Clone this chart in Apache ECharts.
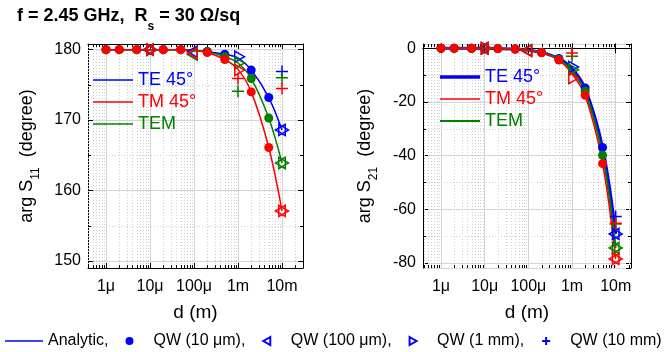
<!DOCTYPE html>
<html>
<head>
<meta charset="utf-8">
<script src="https://cdn.jsdelivr.net/npm/echarts@6/dist/echarts.min.js"></script>
<style>
  html, body { margin: 0; padding: 0; background: #fff; }
  #chart { width: 665px; height: 352px; }
</style>
</head>
<body>
<div id="chart"></div>
<script>
const FONT = "'Liberation Sans', Arial, sans-serif";

// thickness d (m), 1-2-5 steps
const dValues = [1e-6, 2e-6, 5e-6, 1e-5, 2e-5, 5e-5, 1e-4, 2e-4, 5e-4, 1e-3, 2e-3, 5e-3, 1e-2];
const xTickLabels = ['1μ', '10μ', '100μ', '1m', '10m'];
const s11MinorTicks = [155, 165, 175];
const s21MinorTicks = [-70, -50, -30, -10];

// arg S11 (degree), analytic curves
const s11TE  = [180, 180, 180, 180, 180, 180, 179.9, 179.75, 179.35, 178.8, 177.1, 173.2, 168.6];
const s11TM  = [180, 180, 180, 180, 180, 180, 179.85, 179.6, 178.6, 177.2, 174.0, 166.1, 157.1];
const s11TEM = [180, 180, 180, 180, 180, 180, 179.9, 179.7, 179.0, 178.1, 175.9, 170.3, 163.9];

// arg S21 (degree), analytic curves
const s21TE  = [0, 0, 0, 0, -0.1, -0.3, -0.7, -1.5, -3.8, -7.5, -15.0, -37.0, -69.2];
const s21TM  = [0, 0, 0, 0, -0.1, -0.3, -0.8, -1.7, -4.4, -9.5, -17.6, -43.0, -78.5];
const s21TEM = [0, 0, 0, 0, -0.1, -0.3, -0.8, -1.6, -4.1, -8.5, -16.2, -39.9, -74.4];

// QW (10 um) points
const qw10umD = [1e-6, 2e-6, 5e-6, 2e-5, 5e-5, 2e-4, 5e-4, 2e-3, 5e-3];
const s11Qw10umTE  = [180, 180, 180, 180, 180, 179.75, 179.35, 177.1, 173.2];
const s11Qw10umTM  = [180, 180, 180, 180, 180, 179.6, 178.6, 174.0, 166.1];
const s11Qw10umTEM = [180, 180, 180, 180, 180, 179.7, 179.0, 175.9, 170.3];
const s21Qw10umTE  = [0, 0, 0, -0.1, -0.3, -1.5, -3.8, -14.8, -37.0];
const s21Qw10umTM  = [0, 0, 0, -0.1, -0.3, -1.7, -4.4, -17.5, -43.0];
const s21Qw10umTEM = [0, 0, 0, -0.1, -0.3, -1.6, -4.1, -16.0, -39.9];

// QW (100 um) points
const qw100umD = [1e-5, 1e-4, 1e-2];
const s11Qw100umTE  = [180, 179.7, 168.6];
const s11Qw100umTM  = [180, 179.5, 157.1];
const s11Qw100umTEM = [180, 179.3, 163.9];
const s21Qw100umTE  = [0, -0.8, -69.2];
const s21Qw100umTM  = [0, -0.9, -78.5];
const s21Qw100umTEM = [0, -0.8, -74.4];

// QW (1 mm) points
const qw1mmD = [1e-5, 1e-3, 1e-2];
const s11Qw1mmTE  = [180, 179.0, 168.6];
const s11Qw1mmTM  = [180, 177.1, 157.1];
const s11Qw1mmTEM = [180, 178.1, 163.9];
const s21Qw1mmTE  = [0, -7.0, -69.2];
const s21Qw1mmTM  = [0, -11.1, -78.5];
const s21Qw1mmTEM = [0, -8.0, -74.4];

// QW (10 mm) points
const qw10mmD = [1e-3, 1e-2];
const s11Qw10mmTE  = [null, 176.9];
const s11Qw10mmTM  = [175.9, 174.5];
const s11Qw10mmTEM = [174.1, 176.0];
const s21Qw10mmTE  = [null, -62.7];
const s21Qw10mmTM  = [-1.8, -65.2];
const s21Qw10mmTEM = [-3.0, -65.5];

const BLUE = '#0000ff', RED = '#ff0000', GREEN = '#008000';
const PLUS = 'path://M0,5L10,5M5,0L5,10';
// triangles centred on their centroid (a zero length stub pads the box)
const TRI_LEFT = 'path://M11.55,5L11.55,5M0,5L8.66,0L8.66,10Z';
const TRI_RIGHT = 'path://M0,5L0,5M2.89,0L11.55,5L2.89,10Z';

function pairs(xs, ys) {
  const out = [];
  xs.forEach((x, i) => { if (ys[i] != null) out.push([x, ys[i]]); });
  return out;
}

const chart = echarts.init(document.getElementById('chart'));

function xAxes(gridIndex, min, max) {
  const base = {
    type: 'log', logBase: 10, gridIndex, min, max,
    axisLine: { show: true, lineStyle: { color: '#000', width: 1 } },
    axisTick: { show: true, inside: true, length: 5, lineStyle: { color: '#000' } },
    minorTick: { show: false }
  };
  return [
    {
      ...base, position: 'bottom',
      axisLabel: {
        showMinLabel: false, showMaxLabel: false, margin: 11,
        fontSize: 16, color: '#000', fontFamily: FONT,
        formatter: v => xTickLabels[Math.round(Math.log10(v)) + 6] || ''
      },
      splitLine: { show: true, lineStyle: { color: '#d4d4d4', width: 1 } },
      name: 'd (m)', nameLocation: 'middle', nameGap: 35,
      nameTextStyle: { fontSize: 19, color: '#000', fontFamily: FONT }
    },
    { ...base, position: 'top', axisLabel: { show: false }, splitLine: { show: false } }
  ];
}

function yAxes(gridIndex, min, max, step, sub, nameGap) {
  const base = {
    type: 'value', gridIndex, min, max, splitNumber: 4, minInterval: step, maxInterval: step,
    axisLine: { show: true, lineStyle: { color: '#000', width: 1 } },
    axisTick: { show: true, inside: true, length: 5, lineStyle: { color: '#000' } }
  };
  return [
    {
      ...base, position: 'left',
      axisLabel: { showMinLabel: false, showMaxLabel: false, margin: 7, fontSize: 16, color: '#000', fontFamily: FONT },
      splitLine: { show: true, lineStyle: { color: '#d4d4d4', width: 1 } },
      name: '{a|arg S}{s|' + sub + '}{a|  (degree)}',
      nameLocation: 'middle', nameGap,
      nameTextStyle: {
        rich: {
          a: { fontSize: 18, color: '#000', fontFamily: FONT, lineHeight: 20, verticalAlign: 'top' },
          s: { fontSize: 12, color: '#000', fontFamily: FONT, lineHeight: 12, padding: [12, 0, 0, 0], verticalAlign: 'top' }
        }
      }
    },
    { ...base, position: 'right', axisLabel: { show: false }, splitLine: { show: false } }
  ];
}

// dotted minor grid lines plus inner minor ticks on the frame
function minorGrid(xAxisIndex, yAxisIndex, xMin, xMax, yMinor) {
  return {
    type: 'custom', xAxisIndex, yAxisIndex, silent: true, z: 1,
    data: [[xMin * 2, yMinor[0]]],
    renderItem(params, api) {
      const cs = params.coordSys;
      const top = cs.y, bottom = cs.y + cs.height, left = cs.x, right = cs.x + cs.width;
      const dotted = { stroke: '#cfcfcf', lineWidth: 1, lineDash: [1, 2] };
      const tick = { stroke: '#000', lineWidth: 1 };
      const kids = [];
      const seg = (x1, y1, x2, y2, style) => kids.push({ type: 'line', shape: { x1, y1, x2, y2 }, style });
      for (let n = -7; n <= -1; n++) {
        for (let k = 2; k <= 9; k++) {
          const v = k * Math.pow(10, n);
          if (v <= xMin || v >= xMax) continue;
          const x = Math.round(api.coord([v, yMinor[0]])[0]) + 0.5;
          seg(x, top, x, bottom, dotted);
          seg(x, bottom, x, bottom - 3, tick);
          seg(x, top, x, top + 3, tick);
        }
      }
      yMinor.forEach(v => {
        const y = Math.round(api.coord([xMin * 2, v])[1]) + 0.5;
        seg(left, y, right, y, dotted);
        seg(left, y, left + 3, y, tick);
        seg(right, y, right - 3, y, tick);
      });
      return { type: 'group', children: kids };
    }
  };
}

function plotSeries(xi, yi, curves, widths, qw) {
  const out = [];
  const modes = [['TE 45°', BLUE], ['TEM', GREEN], ['TM 45°', RED]];
  modes.forEach(([name, c], m) => {
    out.push({
      name, type: 'line', xAxisIndex: xi, yAxisIndex: yi, z: 3,
      data: pairs(dValues, curves[m]), showSymbol: false, symbol: 'none', smooth: 0.35,
      lineStyle: { color: c, width: widths[m] }, itemStyle: { color: c }
    });
  });
  const kinds = [
    { key: 'c', d: qw10umD, symbol: 'circle', size: 9, fill: true },
    { key: 'l', d: qw100umD, symbol: TRI_LEFT, size: 13, fill: false },
    { key: 'r', d: qw1mmD, symbol: TRI_RIGHT, size: 13, fill: false },
    { key: 'p', d: qw10mmD, symbol: PLUS, size: 12, fill: false }
  ];
  kinds.forEach(k => {
    modes.forEach(([name, c], m) => {
      out.push({
        name: name + ' ' + k.key, type: 'scatter', xAxisIndex: xi, yAxisIndex: yi, z: 4,
        data: pairs(k.d, qw[k.key][m]), symbol: k.symbol, symbolSize: k.size, symbolKeepAspect: true,
        itemStyle: k.fill
          ? { color: c, opacity: 1 }
          : { color: 'rgba(0,0,0,0)', borderColor: c, borderWidth: 1.5, opacity: 1 }
      });
    });
  });
  return out;
}

const S11_XMIN = 3.9e-7, S11_XMAX = 0.030;
const S21_XMIN = 3.87e-7, S21_XMAX = 0.0224;

const hollow = { color: 'rgba(0,0,0,0)', borderColor: BLUE, borderWidth: 1.2, opacity: 1 };

const series = [
  minorGrid(0, 0, S11_XMIN, S11_XMAX, s11MinorTicks),
  minorGrid(2, 2, S21_XMIN, S21_XMAX, s21MinorTicks),
  ...plotSeries(0, 0, [s11TE, s11TEM, s11TM], [1.5, 1.5, 1.5], {
    c: [s11Qw10umTE, s11Qw10umTEM, s11Qw10umTM],
    l: [s11Qw100umTE, s11Qw100umTEM, s11Qw100umTM],
    r: [s11Qw1mmTE, s11Qw1mmTEM, s11Qw1mmTM],
    p: [s11Qw10mmTE, s11Qw10mmTEM, s11Qw10mmTM]
  }),
  ...plotSeries(2, 2, [s21TE, s21TEM, s21TM], [3, 2, 1.5], {
    c: [s21Qw10umTE, s21Qw10umTEM, s21Qw10umTM],
    l: [s21Qw100umTE, s21Qw100umTEM, s21Qw100umTM],
    r: [s21Qw1mmTE, s21Qw1mmTEM, s21Qw1mmTM],
    p: [s21Qw10mmTE, s21Qw10mmTEM, s21Qw10mmTM]
  }),
  // empty series that only feed the bottom key
  { name: 'Analytic', type: 'line', data: [], symbol: 'none', lineStyle: { color: BLUE, width: 1.5 }, itemStyle: { color: BLUE } },
  { name: 'QW (10 μm)', type: 'scatter', data: [], symbol: 'circle', itemStyle: { color: BLUE, opacity: 1 } },
  { name: 'QW (100 μm)', type: 'scatter', data: [], itemStyle: hollow },
  { name: 'QW (1 mm)', type: 'scatter', data: [], itemStyle: hollow },
  { name: 'QW (10 mm)', type: 'scatter', data: [], itemStyle: { ...hollow, borderWidth: 1.5 } }
];

const keyText = { fontSize: 18, fontFamily: FONT, lineHeight: 22 };

chart.setOption({
  animation: false,
  backgroundColor: '#fff',
  title: {
    left: 12, top: 2,
    text: '{a|f = 2.45 GHz,  R}{s|s}{a| = 30 }{o|Ω}{a|/sq}',
    textStyle: {
      rich: {
        a: { fontSize: 18, fontWeight: 'bold', color: '#000', fontFamily: FONT, lineHeight: 20, verticalAlign: 'top' },
        o: { fontSize: 18, color: '#000', fontFamily: FONT, lineHeight: 20, verticalAlign: 'top' },
        s: { fontSize: 12, fontWeight: 'bold', color: '#000', fontFamily: FONT, lineHeight: 12, padding: [14, 0, 0, 0], verticalAlign: 'top' }
      }
    }
  },
  grid: [
    { left: 88, top: 44, width: 215, height: 224 },
    { left: 423, top: 44, width: 208, height: 224 }
  ],
  xAxis: [...xAxes(0, S11_XMIN, S11_XMAX), ...xAxes(1, S21_XMIN, S21_XMAX)],
  yAxis: [...yAxes(0, 149, 180.8, 10, '11', 50), ...yAxes(1, -81.9, 1.6, 20, '21', 47)],
  legend: [
    {
      left: 88, top: 64, padding: 5, orient: 'vertical', itemWidth: 40, itemHeight: 1.5, itemGap: 0, icon: 'rect',
      selectedMode: false,
      data: [
        { name: 'TE 45°', textStyle: { ...keyText, color: BLUE } },
        { name: 'TM 45°', textStyle: { ...keyText, color: RED } },
        { name: 'TEM', textStyle: { ...keyText, color: GREEN } }
      ]
    },
    {
      left: 435, top: 61, padding: 5, orient: 'vertical', itemWidth: 40, itemHeight: 4, itemGap: 0,
      selectedMode: false, symbolKeepAspect: true,
      data: [
        { name: 'TE 45°', icon: 'path://M0,0H40V3.5H0Z', textStyle: { ...keyText, color: BLUE } },
        { name: 'TM 45°', icon: 'path://M0,0H40V1.5H0Z', textStyle: { ...keyText, color: RED } },
        { name: 'TEM', icon: 'path://M0,0H40V2H0Z', textStyle: { ...keyText, color: GREEN } }
      ]
    },
    {
      left: 0, top: 328, padding: 5, orient: 'horizontal', itemWidth: 38, itemHeight: 8, itemGap: 17,
      selectedMode: false, symbolKeepAspect: true,
      data: [
        { name: 'Analytic', icon: 'path://M0,0H38V1.5H0Z' },
        { name: 'QW (10 μm)', icon: 'circle' },
        { name: 'QW (100 μm)', icon: 'path://M8.66,0L0,5L8.66,10Z' },
        { name: 'QW (1 mm)', icon: 'path://M0,0L8.66,5L0,10Z' },
        { name: 'QW (10 mm)', icon: PLUS }
      ],
      formatter: n => (n === 'QW (10 mm)' ? n : n + ','),
      textStyle: { fontSize: 16, color: '#000', fontFamily: FONT }
    }
  ],
  series
});
</script>
</body>
</html>
